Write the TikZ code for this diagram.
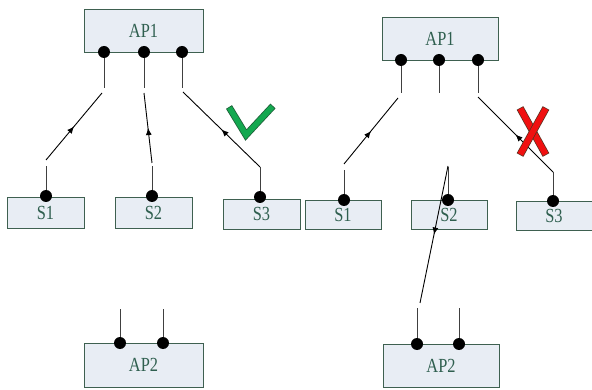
\documentclass[tikz,border=0pt]{standalone}
\usepackage{fontspec}
\setmainfont[FakeStretch=0.82]{Liberation Serif}
\usetikzlibrary{decorations.markings,arrows.meta}
\definecolor{boxfill}{HTML}{E8EDF4}
\definecolor{boxline}{HTML}{3E6050}
\definecolor{txt}{HTML}{2F5F4F}
\definecolor{okgreen}{HTML}{14A850}
\definecolor{okdark}{HTML}{1E5F38}
\definecolor{xred}{HTML}{F01010}
\definecolor{xdark}{HTML}{5A3020}
\tikzset{
  apbox/.style={draw=boxline, fill=boxfill, line width=0.9pt, text=txt, font=\fontsize{20}{20}\selectfont, inner sep=0pt},
  dotc/.style={circle, fill=black, inner sep=0pt, minimum size=12pt},
  stub/.style={draw=black!75, line width=0.9pt},
  link/.style={draw=black, line width=0.9pt, postaction={decorate},
    decoration={markings, mark=at position 0.5 with {\arrow{Latex[length=7pt,width=6pt]}}}},
}
\begin{document}
\begin{tikzpicture}[x=1pt,y=-1pt]
\useasboundingbox (0,0) rectangle (592,390);
% ---------- left ----------
\node[apbox, minimum width=119pt, minimum height=43pt] (lap1) at (143.5,30.5) {AP1};
\node[apbox, minimum width=77pt, minimum height=31pt] (ls1) at (45.5,212.5) {S1};
\node[apbox, minimum width=77pt, minimum height=31pt] (ls2) at (153.5,212.5) {S2};
\node[apbox, minimum width=77pt, minimum height=30pt] (ls3) at (261.5,214) {S3};
\node[apbox, minimum width=119pt, minimum height=44pt] (lap2) at (143.5,365) {AP2};
\coordinate (la1e) at (104,88);
\coordinate (la2e) at (144,88);
\coordinate (la3e) at (182,88);
\coordinate (ld1e) at (46,166);
\coordinate (ld2e) at (152,166);
\coordinate (ld3e) at (260,167);
\coordinate (lb1e) at (120,309);
\coordinate (lb2e) at (163,309);
\coordinate (la1c) at (104,52);
\coordinate (la2c) at (144,52);
\coordinate (la3c) at (182,52);
\coordinate (ld1c) at (46,196);
\coordinate (ld2c) at (152,196);
\coordinate (ld3c) at (260,197);
\coordinate (lb1c) at (120,343);
\coordinate (lb2c) at (163,343);
\foreach \a in {la1,la2,la3,ld1,ld2,ld3,lb1,lb2} {
  \draw[stub] (\a c) -- (\a e);
  \node[dotc] (\a) at (\a c) {};
}
\coordinate (lx1a) at (46,160); \coordinate (lx1b) at (102,93);
\coordinate (lx2a) at (152,163); \coordinate (lx2b) at (144,93);
\coordinate (lx3a) at (260,167); \coordinate (lx3b) at (183,92);
\draw[link] (lx1a) -- (lx1b);
\draw[link] (lx2a) -- (lx2b);
\draw[link] (lx3a) -- (lx3b);
% check mark
\coordinate (ck1) at (229,107);
\coordinate (ck2) at (246,135);
\coordinate (ck3) at (273,106);
\draw[okdark, line width=7pt, line join=miter] (ck1) -- (ck2) -- (ck3);
\draw[okgreen, line width=5.4pt, line join=miter, shorten <=0.8pt, shorten >=0.8pt] (ck1) -- (ck2) -- (ck3);
% ---------- right ----------
\node[apbox, minimum width=116pt, minimum height=43pt] (rap1) at (440,38.5) {AP1};
\node[apbox, minimum width=76pt, minimum height=29pt] (rs1) at (343,214.5) {S1};
\node[apbox, minimum width=76pt, minimum height=29pt] (rs2) at (449,214.5) {S2};
\node[apbox, minimum width=76pt, minimum height=29pt] (rs3) at (554,215.5) {S3};
\node[apbox, minimum width=116pt, minimum height=43pt] (rap2) at (441,365.5) {AP2};
\coordinate (ra1c) at (401,60);
\coordinate (ra2c) at (439,60);
\coordinate (ra3c) at (478,60);
\coordinate (rd1c) at (344,200);
\coordinate (rd2c) at (448,200);
\coordinate (rd3c) at (553,201);
\coordinate (rb1c) at (417,344);
\coordinate (rb2c) at (459,344);
\coordinate (ra1e) at (401,93);
\coordinate (ra2e) at (439,93);
\coordinate (ra3e) at (478,93);
\coordinate (rd1e) at (344,170);
\coordinate (rd2e) at (448,167);
\coordinate (rd3e) at (553,172);
\coordinate (rb1e) at (417,308);
\coordinate (rb2e) at (459,308);
\foreach \a in {ra1,ra2,ra3,rd1,rd2,rd3,rb1,rb2} {
  \draw[stub] (\a c) -- (\a e);
  \node[dotc] (\a) at (\a c) {};
}
\coordinate (rx1a) at (344,164); \coordinate (rx1b) at (398,98);
\coordinate (rx2a) at (448,166); \coordinate (rx2b) at (420,303);
\coordinate (rx3a) at (553,172); \coordinate (rx3b) at (478,97);
\draw[link] (rx1a) -- (rx1b);
\draw[link] (rx2a) -- (rx2b);
\draw[link] (rx3a) -- (rx3b);
% red cross
\coordinate (xa1) at (520,108); \coordinate (xa2) at (546,155);
\coordinate (xb1) at (546,108); \coordinate (xb2) at (520,155);
\draw[xdark, line width=7.5pt] (xa1) -- (xa2);
\draw[xred, line width=6pt, shorten <=0.7pt, shorten >=0.7pt] (xa1) -- (xa2);
\draw[xdark, line width=7.5pt] (xb1) -- (xb2);
\draw[xred, line width=6pt, shorten <=0.7pt, shorten >=0.7pt] (xb1) -- (xb2);
\end{tikzpicture}
\end{document}
